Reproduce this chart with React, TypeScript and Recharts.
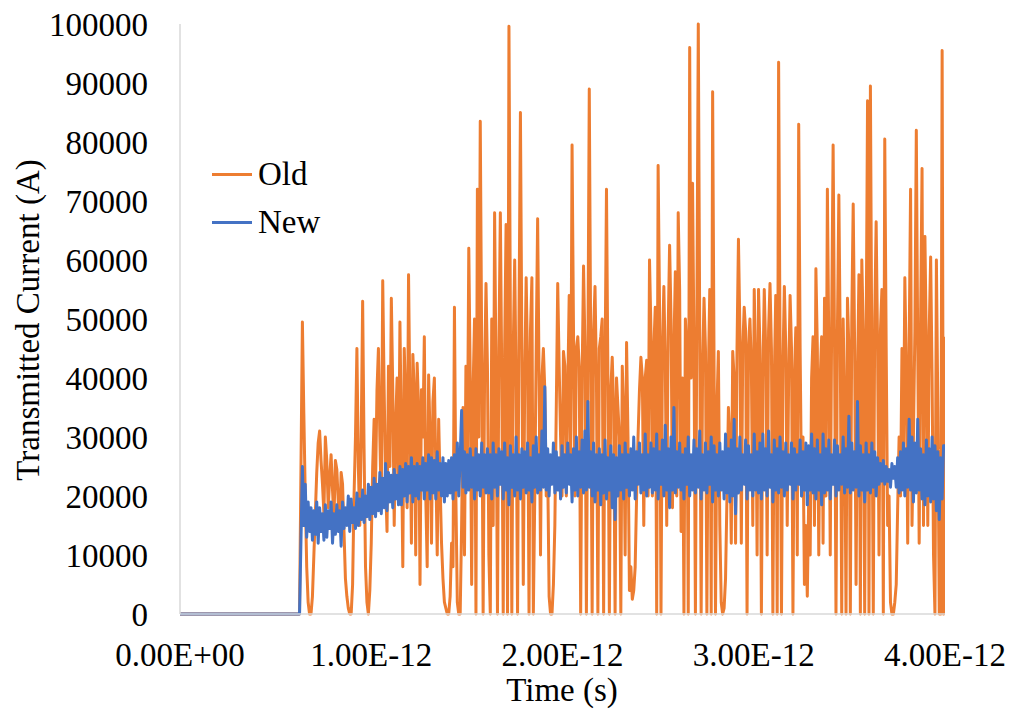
import { LineChart, Line, XAxis, YAxis } from "recharts";

const FONT = '"Liberation Serif", "Times New Roman", serif';
const OLD_COLOR = "#ED7D31";
const NEW_COLOR = "#4472C4";
const FONT_SIZE = 33;

// quiet period before the pulse arrives
const leadTimes = [0, 0.625e-12];
const leadValues = [0, 0];

// sampled part of the trace: first sample time and sampling interval (s)
const sampleStart = 0.64e-12;
const sampleStep = 0.0075e-12;

// transmitted current (A), old design
const oldCurrent = [
  49500, 34000, 20000, 8000, 2000, 0, 0, 3000, 10000, 17000, 24000, 29000, 31000, 26000, 22000, 17000, 30000, 26000, 18000, 23000,
  27000, 21000, 16000, 26000, 24500, 19000, 15000, 24000, 22000, 14000, 6000, 3000, 1000, 0, 0, 5000, 20000, 30000, 45000, 25000,
  15000, 30000, 53000, 28000, 8000, 2000, 0, 4000, 12000, 25000, 33000, 22000, 38000, 45000, 30000, 18000, 56500, 38000, 22000, 14000,
  42000, 25000, 53500, 38000, 15000, 32000, 40000, 20000, 49500, 30000, 8000, 45000, 36000, 18000, 57500, 35000, 12000, 44000, 38000, 10000,
  42500, 35000, 5000, 38000, 30000, 47000, 20000, 8000, 40500, 30000, 12000, 36000, 40000, 25000, 10000, 33000, 22000, 12000, 6000, 2000,
  1000, 0, 0, 3000, 12000, 8000, 52000, 20000, 2000, 0, 0, 15000, 35000, 10000, 42000, 25000, 62000, 40000, 5000, 38000,
  50000, 0, 72000, 30000, 83500, 45000, 0, 40000, 56000, 42000, 10000, 0, 50000, 15000, 68000, 40000, 0, 45000, 68000, 40000,
  0, 45000, 66000, 0, 99600, 50000, 0, 45000, 60000, 38000, 0, 50000, 85000, 45000, 5000, 40000, 57000, 42000, 0, 48000,
  57000, 0, 20000, 45000, 67000, 40000, 10000, 40000, 45000, 38000, 20000, 25000, 3000, 0, 0, 5000, 15000, 35000, 56000, 42000,
  30000, 20000, 44500, 42000, 20000, 38000, 54000, 25000, 79500, 48000, 20000, 45000, 47000, 42000, 0, 40000, 59000, 45000, 0, 42000,
  89000, 45000, 0, 48000, 55500, 40000, 0, 45000, 47000, 50000, 0, 42000, 72000, 40000, 0, 38000, 43500, 35000, 0, 40000,
  35000, 30000, 0, 42000, 34000, 10000, 46000, 30000, 4000, 8000, 2500, 4000, 8000, 20000, 30000, 38000, 43500, 40000, 15000, 40000,
  43000, 20000, 60000, 48000, 20000, 45000, 52000, 0, 76000, 52000, 0, 45000, 55500, 42000, 15000, 48000, 62500, 50000, 18000, 45000,
  58000, 20000, 68000, 55000, 14000, 40000, 0, 50000, 45000, 0, 96000, 40000, 73000, 45000, 0, 50000, 100000, 48000, 0, 42000,
  53500, 45000, 0, 40000, 55000, 0, 88500, 42000, 0, 35000, 44500, 15000, 2000, 0, 1000, 6000, 20000, 35000, 30000, 12000,
  44500, 40000, 12000, 45000, 63500, 48000, 12000, 45000, 52000, 48000, 0, 45000, 50000, 42000, 15000, 55000, 42000, 10000, 55000, 45000,
  0, 40000, 55000, 45000, 10000, 48000, 56000, 45000, 0, 40000, 54000, 0, 93500, 45000, 0, 42000, 55500, 45000, 15000, 40000,
  54000, 45000, 0, 40000, 48500, 10000, 83000, 45000, 20000, 30000, 5000, 15000, 3000, 20000, 10000, 40000, 47000, 15000, 58500, 45000,
  10000, 40000, 47000, 12000, 53500, 20000, 72000, 45000, 10000, 50000, 79500, 45000, 0, 48000, 71000, 45000, 0, 50000, 35000, 0,
  53500, 45000, 0, 50000, 69500, 45000, 5000, 40000, 57500, 0, 60000, 48000, 0, 45000, 87000, 0, 89500, 42000, 0, 50000,
  66500, 45000, 10000, 48000, 55000, 0, 80500, 45000, 15000, 20000, 2000, 0, 0, 2000, 5000, 18000, 30000, 20000, 45000, 25000,
  57000, 42000, 12000, 45000, 72000, 15000, 30000, 48000, 82000, 45000, 12000, 50000, 75500, 15000, 64000, 45000, 15000, 48000, 60500, 40000,
  10000, 0, 60000, 35000, 0, 0, 95500, 0, 47000,
];

// transmitted current (A), new design
const newCurrent = [
  25000, 15000, 22000, 13000, 19000, 14000, 18000, 12500, 17500, 13500, 19000, 12000, 18000, 14000, 17000, 12500, 18500, 13000, 17500, 14500,
  19000, 12000, 17000, 13500, 18500, 14000, 17500, 11500, 19000, 14500, 18000, 15000, 20000, 14000, 19500, 15500, 18000, 14500, 20500, 15000,
  19500, 16000, 21000, 15500, 20000, 16500, 22000, 16000, 21500, 17000, 23000, 16500, 22000, 17500, 24000, 17000, 23000, 18000, 25500, 17500,
  24000, 19000, 23500, 18000, 24500, 19500, 23500, 18500, 25000, 18500, 24500, 20000, 25500, 19000, 25000, 20500, 26500, 19000, 25000, 20000,
  25500, 19500, 25000, 21000, 26500, 19500, 25500, 21000, 27000, 19500, 26500, 20500, 26000, 19500, 27500, 21000, 25500, 20000, 26500, 19000,
  25500, 20000, 26000, 20500, 26500, 19500, 27000, 21000, 29000, 20000, 26500, 34500, 21500, 27500, 20500, 27000, 21000, 28000, 21500, 26500,
  19500, 28000, 21000, 27000, 20000, 29000, 21500, 27000, 20500, 28000, 20500, 27000, 19500, 29000, 21500, 27000, 20000, 28000, 22000, 27500,
  19500, 29000, 21000, 26500, 18500, 28500, 21500, 27000, 20000, 30000, 21000, 27000, 19500, 28000, 21500, 27500, 20500, 29000, 21000, 26500,
  19000, 28500, 21500, 30000, 20500, 27000, 21000, 31000, 21500, 38500, 21000, 28000, 20000, 27000, 22000, 29000, 20500, 27500, 21000, 26500,
  19500, 28500, 21500, 27000, 20500, 29000, 22000, 27000, 19000, 28000, 21000, 30000, 20000, 27500, 21500, 29500, 20500, 31000, 21000, 36000,
  21500, 27500, 20000, 29000, 19000, 27000, 21000, 28000, 18500, 27000, 20500, 29500, 19500, 26500, 21000, 28500, 18000, 27000, 16000, 26500,
  20000, 28500, 21000, 27000, 19500, 29000, 21500, 27000, 20000, 28000, 21000, 30000, 19500, 27500, 22000, 29000, 20500, 27000, 21000, 30500,
  20000, 27000, 21500, 29000, 20500, 28000, 21000, 30500, 19500, 27500, 22000, 29500, 20000, 32000, 21000, 28000, 18000, 30000, 21000, 35000,
  20500, 27500, 21500, 29000, 21000, 27000, 19500, 28000, 22000, 30000, 20000, 27000, 21000, 29500, 20500, 28000, 21500, 31000, 19500, 27000,
  21000, 29000, 20500, 27500, 22000, 30000, 19000, 28500, 21000, 27000, 20000, 29000, 21000, 27500, 19500, 30500, 20500, 28000, 19000, 29500,
  20000, 33000, 17000, 28000, 20500, 30000, 21000, 27000, 22000, 29500, 19500, 28500, 21000, 27000, 20000, 30500, 21000, 27500, 20500, 29000,
  19500, 30500, 21000, 28000, 20000, 31000, 21500, 27000, 19000, 29500, 21000, 28000, 20500, 30000, 21500, 27500, 20000, 29000, 21000, 27000,
  22000, 29000, 19500, 28000, 21000, 27000, 22000, 29500, 20000, 27500, 21000, 29000, 18500, 28500, 21000, 30500, 20500, 28000, 19500, 29500,
  21000, 27000, 18500, 30500, 20500, 28000, 21000, 29500, 19500, 27000, 22000, 29500, 20000, 28500, 21000, 27000, 22000, 30000, 20500, 28000,
  21500, 33500, 20500, 29000, 21000, 27500, 21500, 36000, 20000, 28500, 21000, 27000, 19000, 29000, 21000, 27000, 20500, 29000, 21500, 27500,
  20000, 26500, 22000, 25500, 22500, 26000, 22000, 25000, 22500, 24500, 21500, 25500, 23000, 25000, 21500, 26500, 20500, 27500, 21000, 29000,
  20000, 28000, 21500, 33000, 21000, 30000, 19000, 29000, 20500, 33000, 21000, 28000, 19500, 27000, 18500, 29500, 20000, 28000, 19000, 30000,
  19500, 28500, 17500, 27500, 16000, 26500, 19500, 28500, 28500,
];

const xTicks = [0, 1e-12, 2e-12, 3e-12, 4e-12];
const yTicks = [0, 10000, 20000, 30000, 40000, 50000, 60000, 70000, 80000, 90000, 100000];

const rows = [
  ...leadTimes.map((t, i) => ({ t, old: leadValues[i], new: leadValues[i] })),
  ...oldCurrent.map((v, i) => ({
    t: sampleStart + i * sampleStep,
    old: v,
    new: newCurrent[i],
  })),
];

function fmtSci(v: number) {
  const [m, e] = v.toExponential(2).split("e");
  const sign = e[0] === "-" ? "-" : "+";
  const digits = e.replace(/[+-]/, "").padStart(2, "0");
  return `${m}E${sign}${digits}`;
}

const series = [
  { key: "old", name: "Old", color: OLD_COLOR },
  { key: "new", name: "New", color: NEW_COLOR },
];

export default function App() {
  const tickStyle = { fill: "#000", fontSize: FONT_SIZE, fontFamily: FONT };
  return (
    <div
      style={{
        position: "absolute",
        left: 0,
        top: 0,
        width: 1010,
        height: 715,
        background: "#fff",
        fontFamily: FONT,
      }}
    >
      <LineChart
        width={1010}
        height={715}
        data={rows}
        margin={{ top: 24, right: 65, bottom: 0, left: 0 }}
      >
        <XAxis
          dataKey="t"
          type="number"
          domain={[0, 4e-12]}
          ticks={xTicks}
          interval={0}
          allowDataOverflow
          tickFormatter={fmtSci}
          tickLine={false}
          tickSize={0}
          tickMargin={29}
          height={101}
          axisLine={{ stroke: "#d9d9d9", strokeWidth: 1.5 }}
          tick={tickStyle}
          label={{
            content: () => (
              <text x={562} y={701} textAnchor="middle" fontSize={FONT_SIZE} fontFamily={FONT} fill="#000">
                Time (s)
              </text>
            ),
          }}
        />
        <YAxis
          type="number"
          domain={[0, 100000]}
          ticks={yTicks}
          interval={0}
          width={180}
          tickLine={false}
          tickSize={0}
          tickMargin={32}
          axisLine={{ stroke: "#d9d9d9", strokeWidth: 1.5 }}
          tick={tickStyle}
          label={{
            content: () => (
              <text
                x={28}
                y={320}
                transform="rotate(-90 28 320)"
                textAnchor="middle"
                dominantBaseline="central"
                fontSize={FONT_SIZE}
                fontFamily={FONT}
                fill="#000"
              >
                Transmitted Current (A)
              </text>
            ),
          }}
        />
        {series.map((s) => (
          <Line
            key={s.key}
            type="linear"
            dataKey={s.key}
            name={s.name}
            stroke={s.color}
            strokeWidth={3}
            strokeLinejoin="round"
            dot={false}
            isAnimationActive={false}
          />
        ))}
      </LineChart>
      <div style={{ position: "absolute", left: 212, top: 150 }}>
        {series.map((s) => (
          <div key={s.key} style={{ display: "flex", alignItems: "center", height: 48 }}>
            <span style={{ width: 40, height: 3, background: s.color, display: "inline-block" }} />
            <span style={{ fontSize: FONT_SIZE, marginLeft: 6, color: "#000", lineHeight: "48px" }}>{s.name}</span>
          </div>
        ))}
      </div>
    </div>
  );
}
